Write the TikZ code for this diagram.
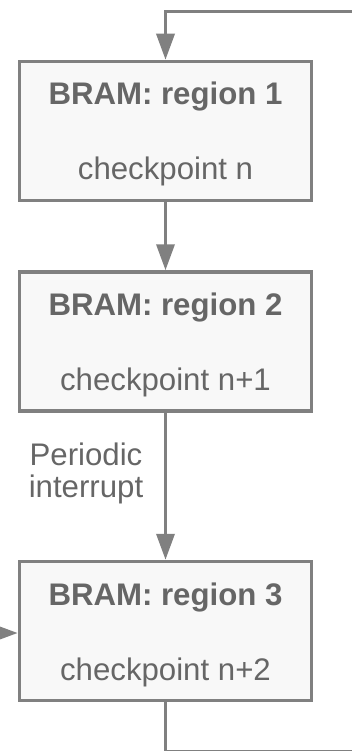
\documentclass[tikz,border=0pt]{standalone}
\usepackage{fontspec}
\setmainfont{Liberation Sans}
\usetikzlibrary{arrows.meta,calc}
\definecolor{linegray}{HTML}{808080}
\definecolor{fillgray}{HTML}{F8F8F8}
\definecolor{textgray}{HTML}{666666}
\begin{document}
\begin{tikzpicture}[x=1pt,y=-1pt,
  box/.style={draw=linegray, fill=fillgray, line width=3.5pt, minimum width=292pt, minimum height=139pt, inner sep=0pt},
  titletext/.style={text=textgray, font=\fontsize{31.2}{32}\selectfont\bfseries, anchor=base, inner sep=0pt},
  bodytext/.style={text=textgray, font=\fontsize{31.2}{32}\selectfont, anchor=base, inner sep=0pt},
  conn/.style={draw=linegray, line width=3.5pt},
  arrow/.style={conn, -{Triangle[length=26pt,width=18pt]}}]
\useasboundingbox (0,0) rectangle (351,751);
\node[box] (b1) at (165.5,131) {};
\node[box] (b2) at (165.5,341.5) {};
\node[box] (b3) at (165.5,631) {};
\node[titletext] (t1) at (165.5,105) {BRAM: region 1};
\node[bodytext] (c1) at (165.5,180) {checkpoint n};
\node[titletext] (t2) at (165.5,315.5) {BRAM: region 2};
\node[bodytext] (c2) at (165.5,390.5) {checkpoint n+1};
\node[titletext] (t3) at (165.5,605) {BRAM: region 3};
\node[bodytext] (c3) at (165.5,680) {checkpoint n+2};
\node[text=textgray, font=\fontsize{31.2}{32}\selectfont, align=center, inner sep=0pt, anchor=base] (pi) at (86,497) {Periodic\\interrupt};
\coordinate (loopBL) at (165.5,751.5);
\coordinate (loopBR) at (365,751.5);
\coordinate (loopTR) at (365,11.5);
\coordinate (loopTL) at (165.5,11.5);
\coordinate (inL) at (-20,633);
\draw[arrow] (b1) -- (b2);
\draw[arrow] (b2) -- (b3);
\draw[arrow] (b3.south) -- (loopBL) -- (loopBR) -- (loopTR) -- (loopTL) -- (b1.north);
\draw[arrow] (inL) -- (inL -| b3.west);
\end{tikzpicture}
\end{document}
